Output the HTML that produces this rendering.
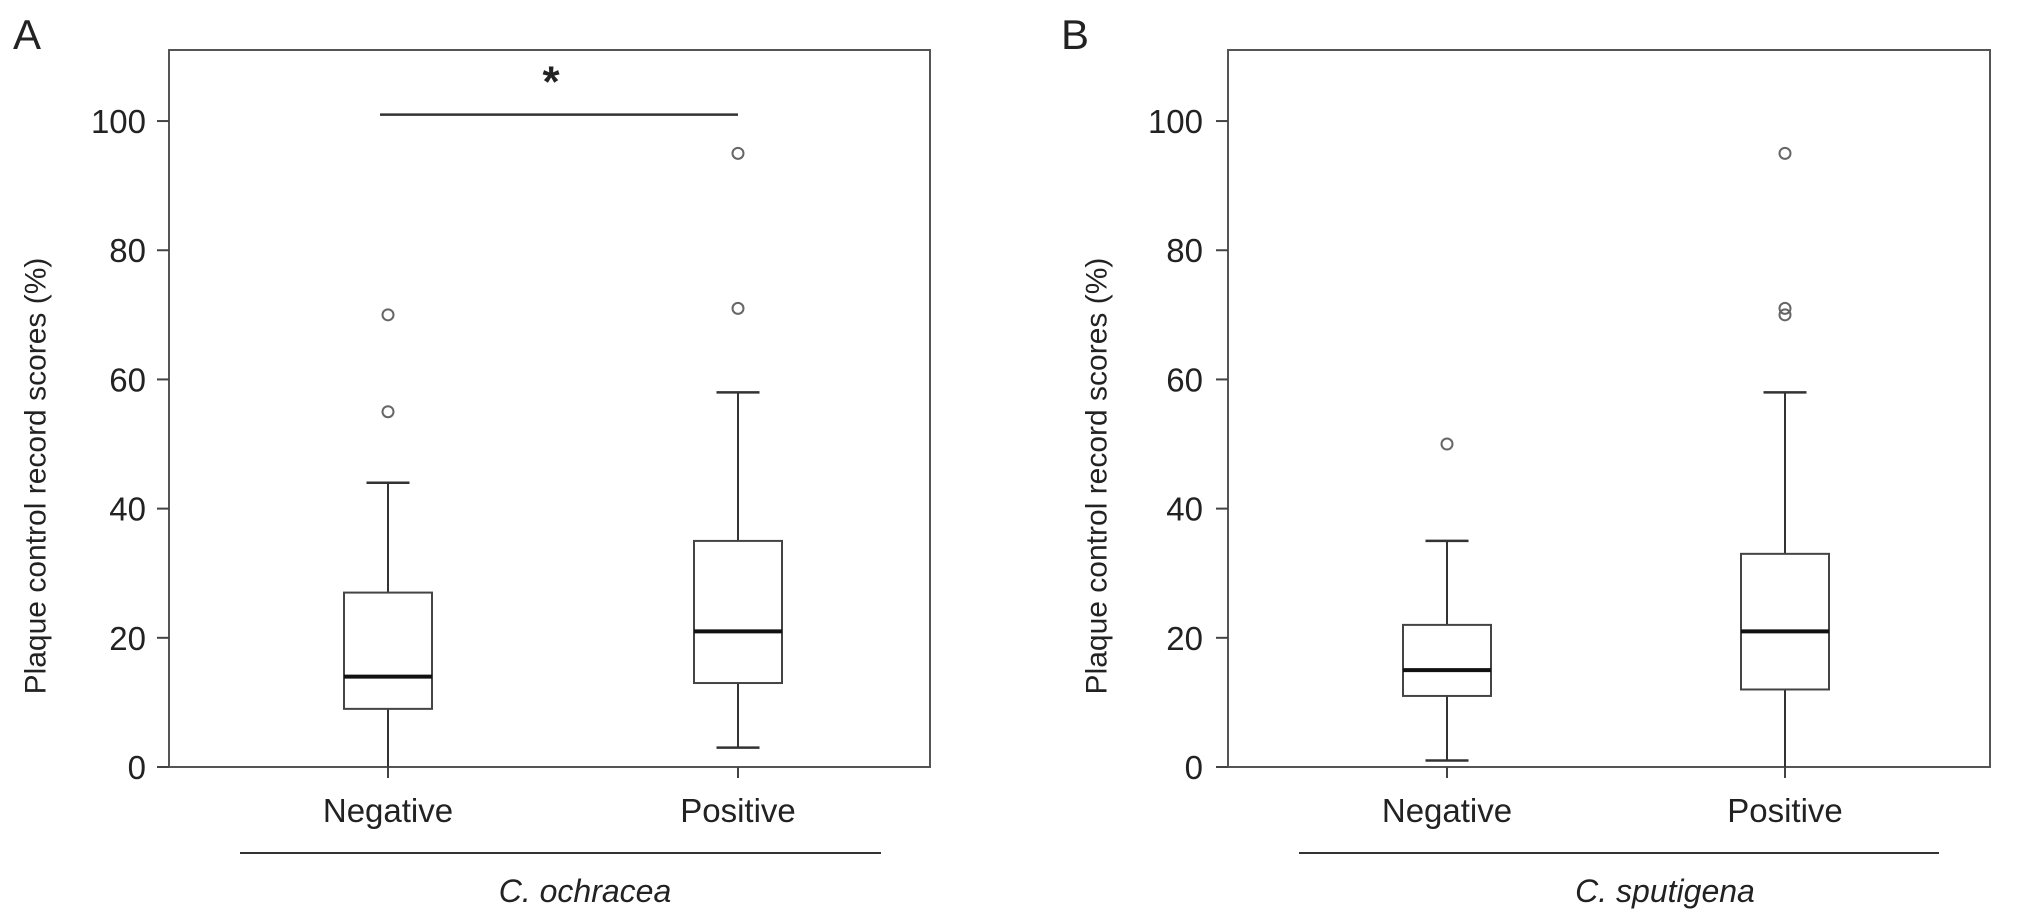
<!DOCTYPE html>
<html><head><meta charset="utf-8">
<style>
html,body{margin:0;padding:0;background:#fff;}
svg{display:block;}
text{font-family:"Liberation Sans",Arial,sans-serif;fill:#222;}
</style></head>
<body>
<svg id="chart" width="2032" height="922" viewBox="0 0 2032 922"></svg>
<script>
const categories = ["Negative", "Positive"];
const panelNames = ["A", "B"];
const speciesNames = ["C. ochracea", "C. sputigena"];
const yTicks = [0, 20, 40, 60, 80, 100];
// [whiskerLow, q1, median, q3, whiskerHigh]
const boxesA = [[0, 9, 14, 27, 44], [3, 13, 21, 35, 58]];
const boxesB = [[1, 11, 15, 22, 35], [0, 12, 21, 33, 58]];
const outliersA = [[55, 70], [71, 95]];
const outliersB = [[50], [70, 71, 95]];
const significanceA = [101];
const significanceB = [];

const NS = "http://www.w3.org/2000/svg";
const svgEl = document.getElementById("chart");
function mk(tag, attrs, parent) {
  const e = document.createElementNS(NS, tag);
  for (const k in attrs) e.setAttribute(k, attrs[k]);
  (parent || svgEl).appendChild(e);
  return e;
}
const layouts = [
  {left:169, right:930, label:13, titleX:35, tickLabelX:146, centers:[388,738], groupLine:[240,881], species:585},
  {left:1228, right:1990, label:1061, titleX:1096, tickLabelX:1203, centers:[1447,1785], groupLine:[1299,1939], species:1665}
];
const plotTop = 50, plotBottom = 767, yMax = 111;
function yScale(v) { return plotBottom - (v / yMax) * (plotBottom - plotTop); }

const allBoxes = [boxesA, boxesB];
const allOut = [outliersA, outliersB];
const allSig = [significanceA, significanceB];

layouts.forEach((L, p) => {
  const g = mk("g", {});
  
  
  const lab = mk("text", {x:L.label, y:49, "font-size":42}, g);
  lab.textContent = panelNames[p];
  
  
  const frame = mk("rect", {x:L.left, y:plotTop, width:L.right-L.left, height:plotBottom-plotTop, fill:"none", stroke:"#555", "stroke-width":2}, g);
  
  
  yTicks.forEach(t => {
    const y = yScale(t);
    const tk = mk("line", {x1:L.left-12, x2:L.left, y1:y, y2:y, stroke:"#444", "stroke-width":2}, g);
    
    
    const tl = mk("text", {x:L.tickLabelX, y:y+12, "font-size":33, "text-anchor":"end"}, g);
    tl.textContent = t;
    
    
  });
  const yt = mk("text", {x:L.titleX, y:476, "font-size":30, "text-anchor":"middle", transform:"rotate(-90 " + L.titleX + " 476)", dy:"0.35em"}, g);
  yt.textContent = "Plaque control record scores (%)";
  
  

  categories.forEach((c, i) => {
    const cx = L.centers[i];
    const b = allBoxes[p][i];
    const bw = 88, cw = 43;
    const bg = mk("g", {}, g);
    
    
    mk("line", {x1:cx, x2:cx, y1:yScale(b[0]), y2:yScale(b[1]), stroke:"#333", "stroke-width":2}, bg);
    mk("line", {x1:cx, x2:cx, y1:yScale(b[3]), y2:yScale(b[4]), stroke:"#333", "stroke-width":2}, bg);
    if (b[0] > 0) mk("line", {x1:cx-cw/2, x2:cx+cw/2, y1:yScale(b[0]), y2:yScale(b[0]), stroke:"#333", "stroke-width":2.5}, bg);
    mk("line", {x1:cx-cw/2, x2:cx+cw/2, y1:yScale(b[4]), y2:yScale(b[4]), stroke:"#333", "stroke-width":2.5}, bg);
    mk("rect", {x:cx-bw/2, y:yScale(b[3]), width:bw, height:yScale(b[1])-yScale(b[3]), fill:"#fff", stroke:"#444", "stroke-width":2}, bg);
    mk("line", {x1:cx-bw/2, x2:cx+bw/2, y1:yScale(b[2]), y2:yScale(b[2]), stroke:"#111", "stroke-width":4}, bg);
    allOut[p][i].forEach(o => {
      const oc = mk("circle", {cx:cx, cy:yScale(o), r:5.5, fill:"none", stroke:"#666", "stroke-width":2}, g);
      
      
    });
    const xt = mk("line", {x1:cx, x2:cx, y1:plotBottom, y2:plotBottom+11, stroke:"#444", "stroke-width":2}, g);
    
    
    const xl = mk("text", {x:cx, y:822, "font-size":33, "text-anchor":"middle"}, g);
    xl.textContent = c;
    
    
  });
  const gl = mk("line", {x1:L.groupLine[0], x2:L.groupLine[1], y1:853, y2:853, stroke:"#333", "stroke-width":2}, g);
  
  
  const sp = mk("text", {x:L.species, y:902, "font-size":32, "font-style":"italic", "text-anchor":"middle"}, g);
  sp.textContent = speciesNames[p];
  
  
  allSig[p].forEach(s => {
    const sl = mk("line", {x1:L.centers[0]-8, x2:L.centers[1], y1:yScale(s), y2:yScale(s), stroke:"#333", "stroke-width":2.5}, g);
    
    
    const st = mk("text", {x:(L.centers[0]+L.centers[1])/2-12, y:yScale(s)-18, "font-size":44, "font-weight":"bold", "text-anchor":"middle"}, g);
    st.textContent = "*";
    
    
  });
});
</script>
</body></html>
